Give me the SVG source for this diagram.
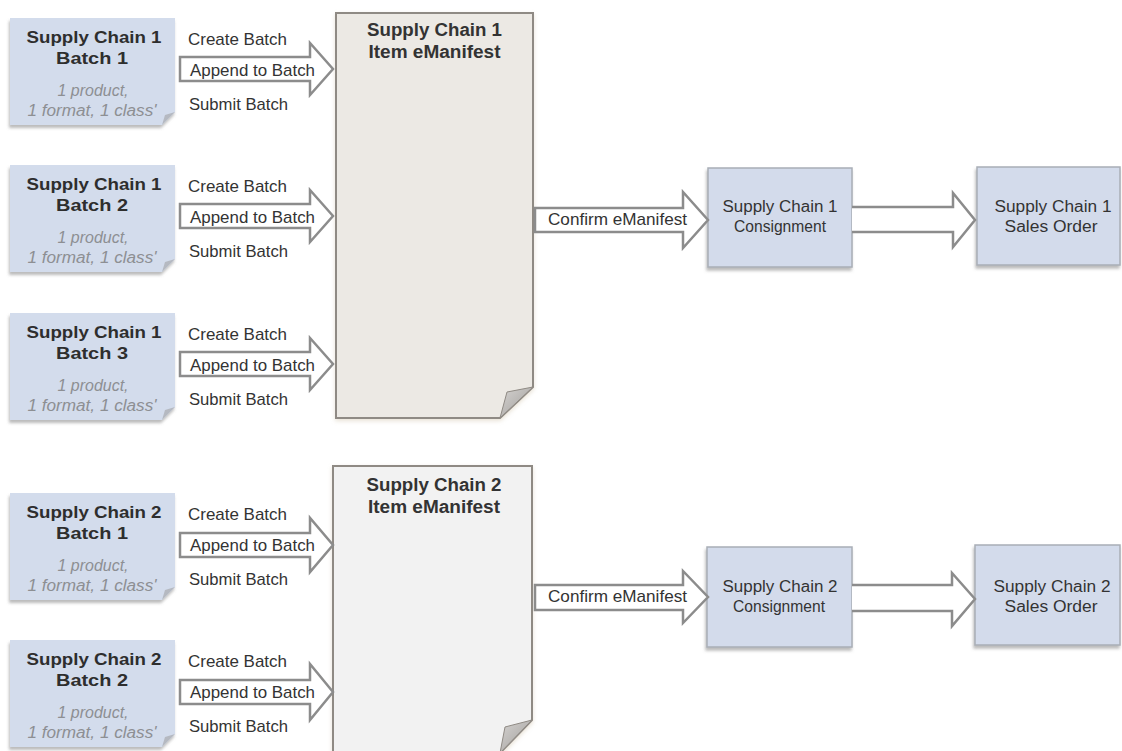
<svg xmlns="http://www.w3.org/2000/svg" width="1122" height="751" viewBox="0 0 1122 751">
<defs>
<style>
text{font-family:"Liberation Sans",Arial,sans-serif;}
.bt{font-size:17px;font-weight:bold;fill:#2e2e2e;text-anchor:middle;}
.it{font-size:16px;font-style:italic;fill:#8d8f93;text-anchor:middle;}
.lb{font-size:17px;fill:#333;}
.ct{font-size:16px;fill:#333;text-anchor:middle;}
.mt{font-size:18px;font-weight:bold;fill:#333;text-anchor:middle;}
.batch{fill:#d3dcec;filter:url(#sh);}
.curl{fill:#b5b9c1;}
.box{fill:#d3dbeb;stroke:#a9aeb6;stroke-width:1.5;filter:url(#sh);}
.arr{fill:#fff;stroke:#8c8c8c;stroke-width:2.5;stroke-linejoin:miter;}
.man1{fill:#ece9e4;stroke:#8f8a84;stroke-width:2;filter:url(#sh2);}
.man2{fill:#f2f2f2;stroke:#8f8a84;stroke-width:2;filter:url(#sh2);}
.fold{fill:url(#fg);stroke:#8f8a84;stroke-width:1;}
</style>
<filter id="sh" x="-10%" y="-10%" width="120%" height="130%">
<feDropShadow dx="-1" dy="3" stdDeviation="1.5" flood-color="#777" flood-opacity="0.5"/>
</filter>
<filter id="sh2" x="-10%" y="-10%" width="120%" height="120%">
<feDropShadow dx="0" dy="2" stdDeviation="2" flood-color="#c8b89a" flood-opacity="0.4"/>
</filter>
<linearGradient id="fg" x1="0" y1="0" x2="1" y2="1">
<stop offset="0" stop-color="#d6d4d2"/>
<stop offset="1" stop-color="#9e9b98"/>
</linearGradient>
</defs>
<rect width="1122" height="751" fill="#fff"/>

<!-- Manifests -->
<g id="manifest1">
<path class="man1" d="M336,13 H533 V387 L500,418 H336 Z"/>
<path class="fold" d="M500,418 L507,392 L533,387 Z"/>
<text class="mt" x="434.5" y="36" textLength="135" lengthAdjust="spacingAndGlyphs">Supply Chain 1</text>
<text class="mt" x="434.5" y="58" textLength="132" lengthAdjust="spacingAndGlyphs">Item eManifest</text>
</g>
<g id="manifest2">
<path class="man2" d="M333,466 H532 V720 L500,753 H333 Z"/>
<path class="fold" d="M500,753 L505,727 L532,720 Z"/>
<text class="mt" x="434" y="491" textLength="135" lengthAdjust="spacingAndGlyphs">Supply Chain 2</text>
<text class="mt" x="434" y="513" textLength="132" lengthAdjust="spacingAndGlyphs">Item eManifest</text>
</g>

<!-- Batch nodes -->
<g id="sc1-batch1" transform="translate(0,69)">
<path class="batch" d="M10,-51 H175 V43 L162,56 H10 Z"/>
<path class="curl" d="M162,56 L165,46 L175,43 Z"/>
<text class="bt" x="94" y="-26" textLength="135" lengthAdjust="spacingAndGlyphs">Supply Chain 1</text>
<text class="bt" x="92" y="-5" textLength="72" lengthAdjust="spacingAndGlyphs">Batch 1</text>
<text class="it" x="93" y="27" textLength="71" lengthAdjust="spacingAndGlyphs">1 product,</text>
<text class="it" x="92" y="47" textLength="129" lengthAdjust="spacingAndGlyphs">1 format, 1 class'</text>
</g>
<g id="sc1-batch2" transform="translate(0,216)">
<path class="batch" d="M10,-51 H175 V43 L162,56 H10 Z"/>
<path class="curl" d="M162,56 L165,46 L175,43 Z"/>
<text class="bt" x="94" y="-26" textLength="135" lengthAdjust="spacingAndGlyphs">Supply Chain 1</text>
<text class="bt" x="92" y="-5" textLength="72" lengthAdjust="spacingAndGlyphs">Batch 2</text>
<text class="it" x="93" y="27" textLength="71" lengthAdjust="spacingAndGlyphs">1 product,</text>
<text class="it" x="92" y="47" textLength="129" lengthAdjust="spacingAndGlyphs">1 format, 1 class'</text>
</g>
<g id="sc1-batch3" transform="translate(0,364)">
<path class="batch" d="M10,-51 H175 V43 L162,56 H10 Z"/>
<path class="curl" d="M162,56 L165,46 L175,43 Z"/>
<text class="bt" x="94" y="-26" textLength="135" lengthAdjust="spacingAndGlyphs">Supply Chain 1</text>
<text class="bt" x="92" y="-5" textLength="72" lengthAdjust="spacingAndGlyphs">Batch 3</text>
<text class="it" x="93" y="27" textLength="71" lengthAdjust="spacingAndGlyphs">1 product,</text>
<text class="it" x="92" y="47" textLength="129" lengthAdjust="spacingAndGlyphs">1 format, 1 class'</text>
</g>
<g id="sc2-batch1" transform="translate(0,545)">
<path class="batch" d="M10,-52 H175 V42 L162,55 H10 Z"/>
<path class="curl" d="M162,55 L165,45 L175,42 Z"/>
<text class="bt" x="94" y="-27" textLength="135" lengthAdjust="spacingAndGlyphs">Supply Chain 2</text>
<text class="bt" x="92" y="-6" textLength="72" lengthAdjust="spacingAndGlyphs">Batch 1</text>
<text class="it" x="93" y="26" textLength="71" lengthAdjust="spacingAndGlyphs">1 product,</text>
<text class="it" x="92" y="46" textLength="129" lengthAdjust="spacingAndGlyphs">1 format, 1 class'</text>
</g>
<g id="sc2-batch2" transform="translate(0,692)">
<path class="batch" d="M10,-52 H175 V42 L162,55 H10 Z"/>
<path class="curl" d="M162,55 L165,45 L175,42 Z"/>
<text class="bt" x="94" y="-27" textLength="135" lengthAdjust="spacingAndGlyphs">Supply Chain 2</text>
<text class="bt" x="92" y="-6" textLength="72" lengthAdjust="spacingAndGlyphs">Batch 2</text>
<text class="it" x="93" y="26" textLength="71" lengthAdjust="spacingAndGlyphs">1 product,</text>
<text class="it" x="92" y="46" textLength="129" lengthAdjust="spacingAndGlyphs">1 format, 1 class'</text>
</g>

<!-- Consignment / Sales order nodes -->
<g id="sc1-consignment">
<rect class="box" x="708" y="168" width="144" height="99"/>
<text class="ct" x="780" y="212" textLength="115" lengthAdjust="spacingAndGlyphs">Supply Chain 1</text>
<text class="ct" x="780" y="232" textLength="92" lengthAdjust="spacingAndGlyphs">Consignment</text>
</g>
<g id="sc1-salesorder">
<rect class="box" x="977" y="167" width="143" height="98"/>
<text class="ct" x="1053" y="212" textLength="117" lengthAdjust="spacingAndGlyphs">Supply Chain 1</text>
<text class="ct" x="1051" y="232" textLength="93" lengthAdjust="spacingAndGlyphs">Sales Order</text>
</g>
<g id="sc2-consignment">
<rect class="box" x="707" y="547" width="145" height="100"/>
<text class="ct" x="780" y="592" textLength="115" lengthAdjust="spacingAndGlyphs">Supply Chain 2</text>
<text class="ct" x="779" y="612" textLength="92" lengthAdjust="spacingAndGlyphs">Consignment</text>
</g>
<g id="sc2-salesorder">
<rect class="box" x="975" y="545" width="145" height="100"/>
<text class="ct" x="1052" y="592" textLength="117" lengthAdjust="spacingAndGlyphs">Supply Chain 2</text>
<text class="ct" x="1051" y="612" textLength="93" lengthAdjust="spacingAndGlyphs">Sales Order</text>
</g>

<!-- Connectors -->
<g id="connectors">
<g transform="translate(0,69)">
<path class="arr" d="M180,-12 H310 V-26 L333,0 L310,26 V12 H180 Z"/>
<text class="lb" x="188" y="-24" textLength="99" lengthAdjust="spacingAndGlyphs">Create Batch</text>
<text class="lb" x="190" y="7" textLength="125" lengthAdjust="spacingAndGlyphs">Append to Batch</text>
<text class="lb" x="189" y="41" textLength="99" lengthAdjust="spacingAndGlyphs">Submit Batch</text>
</g>
<g transform="translate(0,216)">
<path class="arr" d="M180,-12 H310 V-26 L333,0 L310,26 V12 H180 Z"/>
<text class="lb" x="188" y="-24" textLength="99" lengthAdjust="spacingAndGlyphs">Create Batch</text>
<text class="lb" x="190" y="7" textLength="125" lengthAdjust="spacingAndGlyphs">Append to Batch</text>
<text class="lb" x="189" y="41" textLength="99" lengthAdjust="spacingAndGlyphs">Submit Batch</text>
</g>
<g transform="translate(0,364)">
<path class="arr" d="M180,-12 H310 V-26 L333,0 L310,26 V12 H180 Z"/>
<text class="lb" x="188" y="-24" textLength="99" lengthAdjust="spacingAndGlyphs">Create Batch</text>
<text class="lb" x="190" y="7" textLength="125" lengthAdjust="spacingAndGlyphs">Append to Batch</text>
<text class="lb" x="189" y="41" textLength="99" lengthAdjust="spacingAndGlyphs">Submit Batch</text>
</g>
<g transform="translate(0,545)">
<path class="arr" d="M180,-12 H310 V-27 L333,0 L310,27 V12 H180 Z"/>
<text class="lb" x="188" y="-25" textLength="99" lengthAdjust="spacingAndGlyphs">Create Batch</text>
<text class="lb" x="190" y="6" textLength="125" lengthAdjust="spacingAndGlyphs">Append to Batch</text>
<text class="lb" x="189" y="40" textLength="99" lengthAdjust="spacingAndGlyphs">Submit Batch</text>
</g>
<g transform="translate(0,692)">
<path class="arr" d="M180,-12 H310 V-28 L333,0 L310,28 V12 H180 Z"/>
<text class="lb" x="188" y="-25" textLength="99" lengthAdjust="spacingAndGlyphs">Create Batch</text>
<text class="lb" x="190" y="6" textLength="125" lengthAdjust="spacingAndGlyphs">Append to Batch</text>
<text class="lb" x="189" y="40" textLength="99" lengthAdjust="spacingAndGlyphs">Submit Batch</text>
</g>
<g transform="translate(0,220)">
<path class="arr" d="M535,-12 H683 V-28 L708,0 L683,28 V12 H535 Z"/>
<text class="lb" x="548" y="5" textLength="139" lengthAdjust="spacingAndGlyphs">Confirm eManifest</text>
</g>
<g transform="translate(0,597)">
<path class="arr" d="M535,-12 H683 V-26 L708,0 L683,26 V13 H535 Z"/>
<text class="lb" x="548" y="5" textLength="139" lengthAdjust="spacingAndGlyphs">Confirm eManifest</text>
</g>
<path class="arr" d="M852,207 H953 V193 L975,220 L953,247 V232 H852"/>
<path class="arr" d="M852,585 H952 V573 L975,599 L952,626 V611 H852"/>
</g>
</svg>
